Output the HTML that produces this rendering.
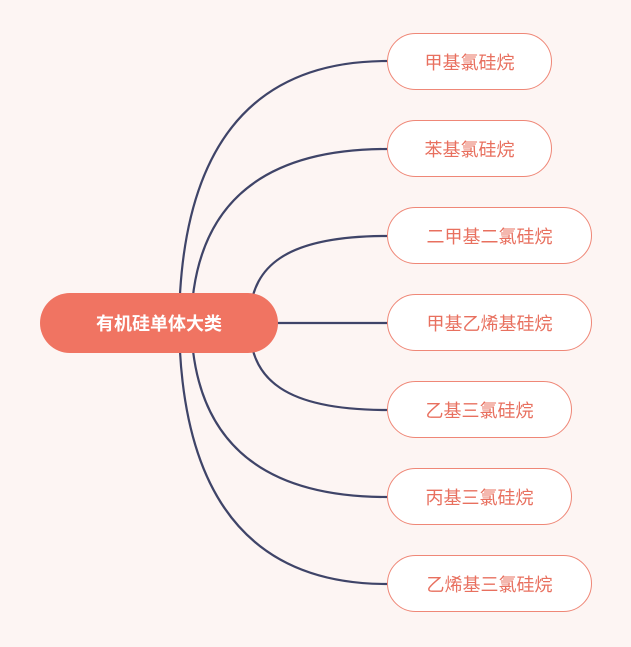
<!DOCTYPE html>
<html><head><meta charset="utf-8"><style>
body{margin:0;background:#fdf5f3;}
.n{position:absolute;height:57px;border:1.5px solid #ef8777;border-radius:29px;background:#fff;color:#e8705f;font:18px "Liberation Sans","Noto Sans CJK SC",sans-serif;display:flex;align-items:center;justify-content:center;box-sizing:border-box;}
.r{position:absolute;left:40px;top:293px;width:238px;height:60px;border-radius:30px;background:#f07462;color:#fff;font:bold 18px "Liberation Sans","Noto Sans CJK SC",sans-serif;display:flex;align-items:center;justify-content:center;}
</style></head><body>
<div style="position:relative;width:631px;height:647px;overflow:hidden">
<svg width="631" height="647" style="position:absolute;left:0;top:0" fill="none" stroke="#3f4468" stroke-width="2.2">
<path d="M179 330 Q179 61 387 61"/>
<path d="M191 330 Q191 149 387 149"/>
<path d="M250 310 C255 270 280 236 387 236"/>
<path d="M270 323 L387 323"/>
<path d="M250 336 C255 376 280 410 387 410"/>
<path d="M191 316 Q191 497 387 497"/>
<path d="M179 316 Q179 584 387 584"/>
</svg>
<div class="r">有机硅单体大类</div>
<div class="n" style="left:387px;top:33px;width:165px">甲基氯硅烷</div>
<div class="n" style="left:387px;top:120px;width:165px">苯基氯硅烷</div>
<div class="n" style="left:387px;top:207px;width:205px">二甲基二氯硅烷</div>
<div class="n" style="left:387px;top:294px;width:205px">甲基乙烯基硅烷</div>
<div class="n" style="left:387px;top:381px;width:185px">乙基三氯硅烷</div>
<div class="n" style="left:387px;top:468px;width:185px">丙基三氯硅烷</div>
<div class="n" style="left:387px;top:555px;width:205px">乙烯基三氯硅烷</div>
</div>
</body></html>
